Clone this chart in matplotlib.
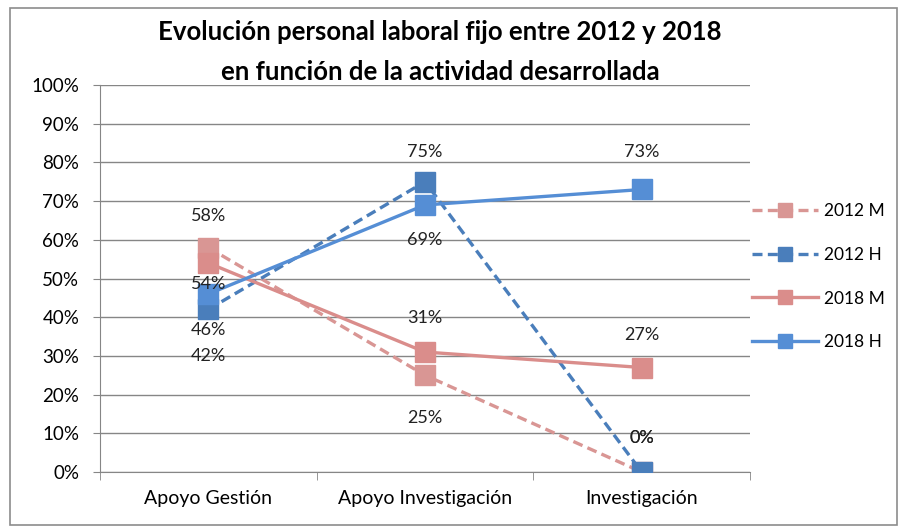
import matplotlib
matplotlib.use("Agg")
import matplotlib.pyplot as plt
from matplotlib.patches import Rectangle
from matplotlib.ticker import FixedLocator

plt.rcParams['font.family'] = ['Lato', 'DejaVu Sans']

# Datos
categorias = ['Apoyo Gestión', 'Apoyo Investigación', 'Investigación']
m_2012 = [58, 25, 0]
h_2012 = [42, 75, 0]
m_2018 = [54, 31, 27]
h_2018 = [46, 69, 73]
series = ['2012 M', '2012 H', '2018 M', '2018 H']

# desplazamiento vertical de las etiquetas (pixeles)
offs = {
    '2012 M': [32, -43, 34],
    '2012 H': [-47, 30, 34],
    '2018 M': [-21, 34, 33],
    '2018 H': [-36, -35, 37],
}

fig = plt.figure(figsize=(9.03, 5.30), dpi=100)
fig.patches.append(Rectangle((10 / 903, 5 / 530), 887 / 903, 517 / 530,
                             transform=fig.transFigure, fill=False,
                             edgecolor='#8c8c8c', linewidth=1.2))
ax = fig.add_axes([100 / 903, 1 - 472 / 530, 650 / 903, 387 / 530])

x = list(range(len(categorias)))
estilos = [
    (m_2012, '#D99694', '--'),
    (h_2012, '#4A7EBB', '--'),
    (m_2018, '#DA8D8B', '-'),
    (h_2018, '#558ED5', '-'),
]
for nombre, (vals, color, ls) in zip(series, estilos):
    ax.plot(x, vals, color=color, linestyle=ls, linewidth=2.4,
            dashes=(3, 1.6) if ls == '--' else (None, None),
            marker='s', markersize=14.5, label=nombre, zorder=3)
    for xi, v, d in zip(x, vals, offs[nombre]):
        ax.annotate(f'{v}%', (xi, v), xytext=(0, d), textcoords='offset pixels',
                    ha='center', va='center', fontsize=13, color='#222222',
                    zorder=4)

ax.set_xlim(-0.5, 2.5)
ax.set_ylim(0, 100)
ax.set_yticks(range(0, 101, 10))
ax.set_yticklabels([f'{v}%' for v in range(0, 101, 10)], fontsize=13.5)
ax.set_xticks(x)
ax.set_xticklabels(categorias, fontsize=14)
ax.xaxis.set_minor_locator(FixedLocator([-0.5, 0.5, 1.5, 2.5]))
ax.tick_params(axis='x', which='major', length=0, pad=13)
ax.tick_params(axis='x', which='minor', length=6, color='#868686')
ax.tick_params(axis='y', length=5, color='#868686', pad=10)
ax.grid(axis='y', color='#868686', linewidth=1)
ax.set_axisbelow(True)
for s in ['top', 'right']:
    ax.spines[s].set_visible(False)
for s in ['left', 'bottom']:
    ax.spines[s].set_color('#868686')

fig.text(440 / 903, 1 - 32 / 530, 'Evolución personal laboral fijo entre 2012 y 2018',
         ha='center', va='center', fontsize=18.5, fontweight='bold')
fig.text(440 / 903, 1 - 72 / 530, 'en función de la actividad desarrollada',
         ha='center', va='center', fontsize=18.5, fontweight='bold')

ax.legend(loc='upper left', bbox_to_anchor=(752 / 903, 1 - 203 / 530),
          bbox_transform=fig.transFigure, frameon=False, fontsize=12.5,
          borderpad=0, borderaxespad=0, handlelength=3.8, labelspacing=1.6,
          handletextpad=0.35, markerscale=0.7)

fig.savefig('out.png', dpi=100)
